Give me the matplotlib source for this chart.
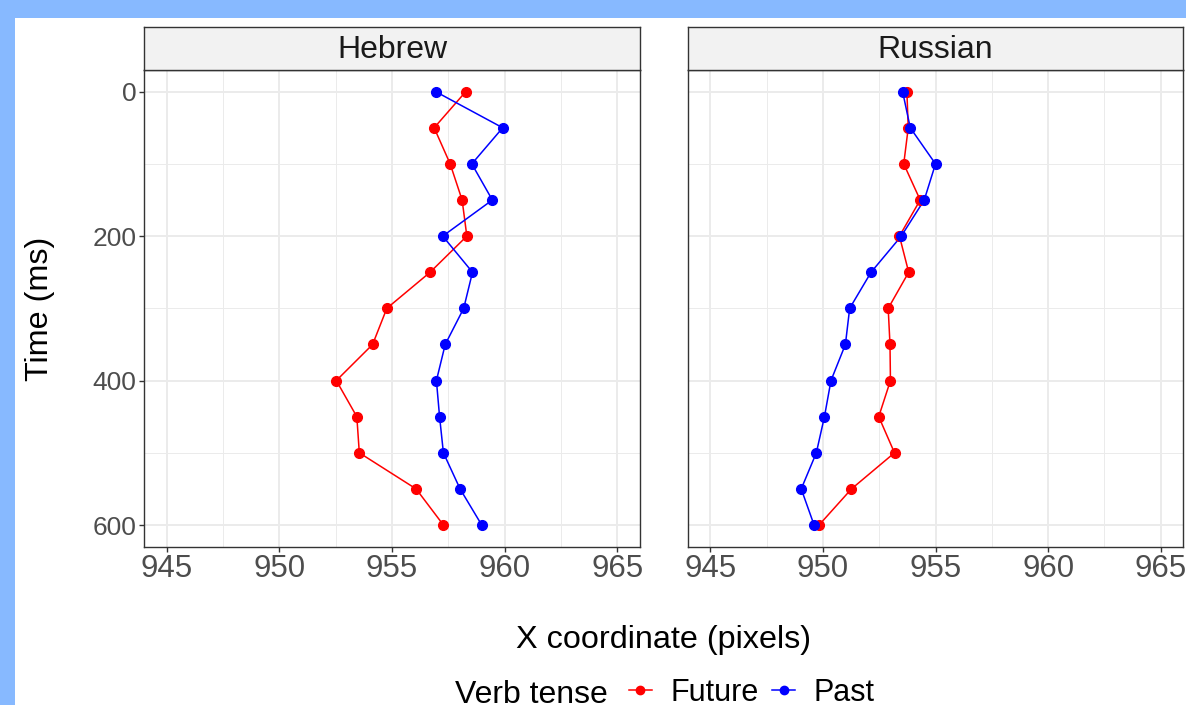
import matplotlib
matplotlib.use("Agg")
import matplotlib.pyplot as plt
from matplotlib.patches import Rectangle
from matplotlib.lines import Line2D

# ---------------- data ----------------
time_ms = [0, 50, 100, 150, 200, 250, 300, 350, 400, 450, 500, 550, 600]
hebrew_future = [958.27, 956.87, 957.58, 958.11, 958.32, 956.69, 954.77, 954.14,
                 952.53, 953.44, 953.55, 956.07, 957.28]
hebrew_past = [956.94, 959.91, 958.54, 959.45, 957.25, 958.57, 958.18, 957.36,
               956.97, 957.11, 957.28, 958.02, 958.98]
russian_future = [953.73, 953.79, 953.59, 954.32, 953.40, 953.81, 952.90, 952.98,
                  953.00, 952.48, 953.18, 951.27, 949.83]
russian_past = [953.54, 953.88, 955.00, 954.50, 953.48, 952.14, 951.19, 951.00,
                950.36, 950.07, 949.71, 949.04, 949.61]
panels = ["Hebrew", "Russian"]
series_names = ["Future", "Past"]
x_ticks = [945, 950, 955, 960, 965]
x_minor = [947.5, 952.5, 957.5, 962.5]
y_ticks = [0, 200, 400, 600]
y_minor = [100, 300, 500]
legend_title = "Verb tense"
x_title = "X coordinate (pixels)"
y_title = "Time (ms)"

colors = {"Future": "#FF0000", "Past": "#0000FF"}
data = {
    "Hebrew": {"Future": hebrew_future, "Past": hebrew_past},
    "Russian": {"Future": russian_future, "Past": russian_past},
}

plt.rcParams["font.family"] = ["Liberation Sans", "DejaVu Sans"]

W, H = 1186, 705
fig = plt.figure(figsize=(W / 100, H / 100), dpi=100)
fig.patch.set_facecolor("#87B9FF")
# white plot area (blue frame on top and left)
fig.add_artist(Rectangle((15 / W, 0), 1 - 15 / W, (H - 18) / H,
                         transform=fig.transFigure, facecolor="white",
                         edgecolor="none", zorder=0))

def fx(px):
    return px / W

def fy(py):
    return (H - py) / H

panel_left = [144, 687.7]
panel_right = [640, 1183.3]
panel_top = 70
panel_bottom = 546.7
strip_top = 27

border_col = "#333333"
handles = {}
for i, lang in enumerate(panels):
    ax = fig.add_axes([fx(panel_left[i]), fy(panel_bottom),
                       fx(panel_right[i] - panel_left[i]),
                       (panel_bottom - panel_top) / H])
    ax.set_facecolor("white")
    ax.set_xlim(944, 966)
    ax.set_ylim(630, -30)
    ax.set_xticks(x_ticks)
    ax.set_xticklabels([str(t) for t in x_ticks])
    ax.set_xticks(x_minor, minor=True)
    ax.set_yticks(y_ticks)
    ax.set_yticks(y_minor, minor=True)
    ax.grid(True, which="major", color="#EBEBEB", linewidth=1.4)
    ax.grid(True, which="minor", color="#EBEBEB", linewidth=0.7)
    ax.set_axisbelow(True)
    ax.tick_params(axis="x", which="major", length=3.6, width=1.0,
                   color=border_col, labelsize=22.5, labelcolor="#4D4D4D", pad=1.5)
    ax.tick_params(which="minor", length=0)
    if i == 0:
        ax.tick_params(axis="y", which="major", length=3.6, width=1.0,
                       color=border_col, labelsize=19, labelcolor="#4D4D4D", pad=2)
        ax.set_yticklabels([str(t) for t in y_ticks])
    else:
        ax.tick_params(axis="y", which="major", length=0, labelleft=False)
    for sp in ax.spines.values():
        sp.set_color(border_col)
        sp.set_linewidth(1.0)
    # lines first, then points
    for s in series_names:
        ax.plot(data[lang][s], time_ms, color=colors[s], linewidth=1.1, zorder=3)
    for s in series_names:
        ax.plot(data[lang][s], time_ms, linestyle="none", marker="o",
                markersize=7, color=colors[s], zorder=4)
        handles[s] = Line2D([], [], color=colors[s], linewidth=1.1,
                            marker="o", markersize=6)
    # strip
    sax = fig.add_axes([fx(panel_left[i]), fy(panel_top),
                        fx(panel_right[i] - panel_left[i]),
                        (panel_top - strip_top) / H])
    sax.set_facecolor("#F2F2F2")
    sax.set_xticks([])
    sax.set_yticks([])
    for sp in sax.spines.values():
        sp.set_color(border_col)
        sp.set_linewidth(1.0)
    sax.text(0.5, 0.47, lang, ha="center", va="center", fontsize=23,
             color="#1A1A1A", transform=sax.transAxes)

# axis titles
fig.text(fx(663.5), fy(647.7), x_title, ha="center", va="baseline",
         fontsize=23.3, color="black")
fig.text(fx(40), fy(308.5), y_title, ha="center", va="center",
         rotation=90, fontsize=23.3, color="black")

# legend
fig.text(fx(455), fy(703), legend_title, ha="left", va="baseline",
         fontsize=23, color="black")
leg = fig.legend([handles[s] for s in series_names], series_names,
                 loc="center left", bbox_to_anchor=(fx(629), fy(693)),
                 ncol=2, frameon=False, fontsize=22, handlelength=0.75,
                 handletextpad=0.6, columnspacing=0.45, borderpad=0,
                 borderaxespad=0)

fig.savefig("out.png", dpi=100, facecolor=fig.get_facecolor())
